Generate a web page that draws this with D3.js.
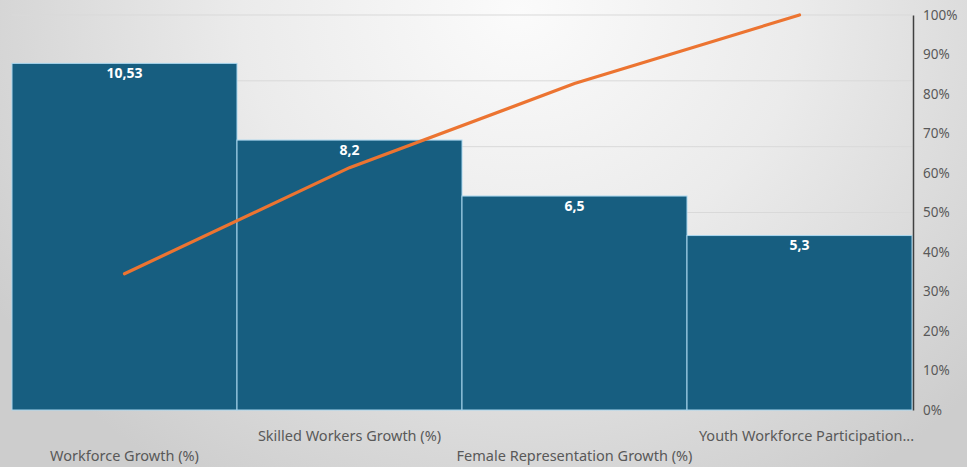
<!DOCTYPE html>
<html>
<head>
<meta charset="utf-8">
<script src="https://cdn.jsdelivr.net/npm/d3@7"></script>
<style>
  html, body { margin: 0; padding: 0; }
  body { width: 967px; height: 467px; overflow: hidden; }
  svg { display: block; }
</style>
</head>
<body>
<svg id="chart" width="967" height="467"></svg>
<script>
// Pareto data: growth indicators, sorted descending
const categories = [
  "Workforce Growth (%)",
  "Skilled Workers Growth (%)",
  "Female Representation Growth (%)",
  "Youth Workforce Participation..."
];
const values = [10.53, 8.2, 6.5, 5.3];
const valueLabels = ["10,53", "8,2", "6,5", "5,3"];
const primaryTicks = [0, 2, 4, 6, 8, 10, 12];
const percentTicks = [0, 0.1, 0.2, 0.3, 0.4, 0.5, 0.6, 0.7, 0.8, 0.9, 1.0];

// cumulative share of total
const total = d3.sum(values);
const cumulative = [];
values.reduce((acc, v) => { const s = acc + v; cumulative.push(s / total); return s; }, 0);

const W = 967, H = 467;
const plot = { left: 12, right: 912, top: 15, bottom: 410 };

const svg = d3.select("#chart");
const defs = svg.append("defs");

// soft grey background, lightest near the top centre
const bg = defs.append("radialGradient")
  .attr("id", "bgGrad")
  .attr("gradientUnits", "userSpaceOnUse")
  .attr("cx", 520).attr("cy", 10).attr("r", 620)
  .attr("gradientTransform", "translate(520,10) scale(1,0.9) translate(-520,-10)");
bg.append("stop").attr("offset", "0%").attr("stop-color", "#fbfbfb");
bg.append("stop").attr("offset", "45%").attr("stop-color", "#ebebeb");
bg.append("stop").attr("offset", "100%").attr("stop-color", "#cdcdcd");
svg.append("rect").attr("width", W).attr("height", H).attr("fill", "url(#bgGrad)");

const x = d3.scaleBand()
  .domain(categories)
  .range([plot.left, plot.right])
  .paddingInner(0).paddingOuter(0);

const y = d3.scaleLinear().domain([0, 12]).range([plot.bottom, plot.top]);
const yPct = d3.scaleLinear().domain([0, 1]).range([plot.bottom, plot.top]);

// horizontal gridlines from the primary value axis
svg.append("g")
  .selectAll("line")
  .data(primaryTicks.filter(t => t > 0))
  .join("line")
  .attr("x1", plot.left).attr("x2", plot.right)
  .attr("y1", d => y(d)).attr("y2", d => y(d))
  .attr("stroke", "#d9d9d9")
  .attr("stroke-width", 1);

// bars
svg.append("g")
  .selectAll("rect")
  .data(values)
  .join("rect")
  .attr("x", (d, i) => x(categories[i]))
  .attr("y", d => y(d))
  .attr("width", x.bandwidth())
  .attr("height", d => y(0) - y(d))
  .attr("fill", "#175e80")
  .attr("stroke", "#a9d6ee")
  .attr("stroke-width", 1);

// value labels inside bar tops
svg.append("g")
  .selectAll("text")
  .data(values)
  .join("text")
  .attr("x", (d, i) => x(categories[i]) + x.bandwidth() / 2)
  .attr("y", d => y(d) + 14.5)
  .attr("text-anchor", "middle")
  .attr("font-family", "'Noto Sans', sans-serif")
  .attr("font-weight", "bold")
  .attr("font-size", 14)
  .attr("fill", "#ffffff")
  .text((d, i) => valueLabels[i]);

// cumulative percentage line
const line = d3.line()
  .x((d, i) => x(categories[i]) + x.bandwidth() / 2)
  .y(d => yPct(d));
svg.append("path")
  .datum(cumulative)
  .attr("d", line)
  .attr("fill", "none")
  .attr("stroke", "#ec7431")
  .attr("stroke-width", 3.2)
  .attr("stroke-linecap", "round");

// secondary percentage axis on the right
const rightAxis = svg.append("g")
  .attr("transform", `translate(${plot.right + 1},0)`)
  .call(d3.axisRight(yPct).tickValues(percentTicks).tickFormat(d3.format(".0%")).tickSize(0).tickPadding(10));
rightAxis.select(".domain").attr("stroke", "#404040").attr("stroke-width", 1.5);
rightAxis.selectAll("text")
  .attr("font-family", "'Noto Sans', sans-serif")
  .attr("font-size", 13.5)
  .attr("fill", "#595959");

// staggered category labels
svg.append("g")
  .selectAll("text")
  .data(categories)
  .join("text")
  .attr("x", d => x(d) + x.bandwidth() / 2 + (d.endsWith("...") ? 7 : 0))
  .attr("y", (d, i) => i % 2 === 0 ? 461 : 441)
  .attr("text-anchor", "middle")
  .attr("font-family", "'Noto Sans', sans-serif")
  .attr("font-size", 14.5)
  .attr("fill", "#595959")
  .text(d => d);
</script>
</body>
</html>
